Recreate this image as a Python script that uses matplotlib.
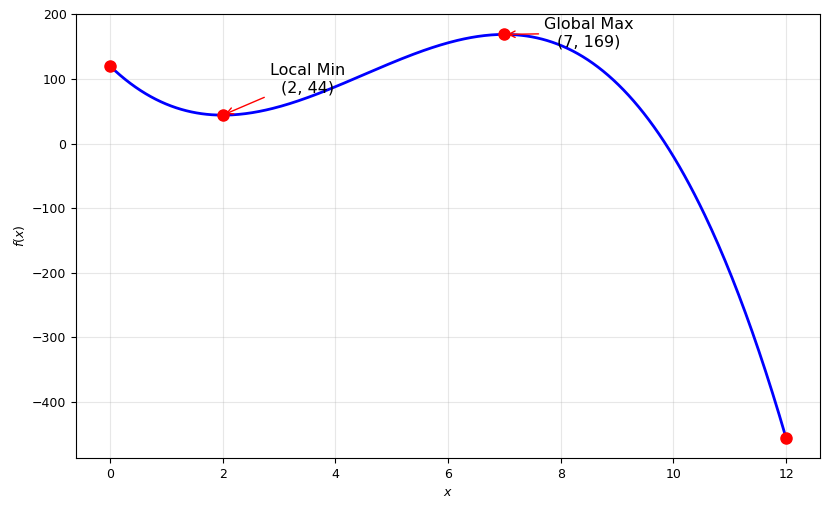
import numpy as np
import matplotlib
matplotlib.use('Agg')
import matplotlib.pyplot as plt

coeffs = [-2, 27, -84, 120]
x_range = [0, 12]

# highlighted points (x, f(x))
point_x = [0, 2, 7, 12]
point_y = [120, 44, 169, -456]

# annotations: label, target point, text position
ann_labels = ['Local Min\n(2, 44)', 'Global Max\n(7, 169)']
ann_xy = [(2, 44), (7, 169)]
ann_text_xy = [(3.5, 100), (8.5, 171)]

x = np.linspace(x_range[0], x_range[1], 400)
y = np.polyval(coeffs, x)

fig, ax = plt.subplots(figsize=(8.29, 5.08), dpi=100)
fig.subplots_adjust(left=0.092, right=0.989, top=0.972, bottom=0.098)

ax.plot(x, y, color='blue', linewidth=2)
ax.plot(point_x, point_y, 'o', color='red', markersize=8, zorder=3)

for label, xy, xyt in zip(ann_labels, ann_xy, ann_text_xy):
    ax.annotate(label, xy=xy, xytext=xyt, ha='center', va='center', fontsize=11.5,
                arrowprops=dict(arrowstyle='->', color='red'))

ax.set_xlabel('$x$', fontsize=9)
ax.set_ylabel('$f(x)$', fontsize=9)
ax.tick_params(labelsize=9)
ax.grid(True, alpha=0.3)

plt.savefig('out.png', dpi=100)
